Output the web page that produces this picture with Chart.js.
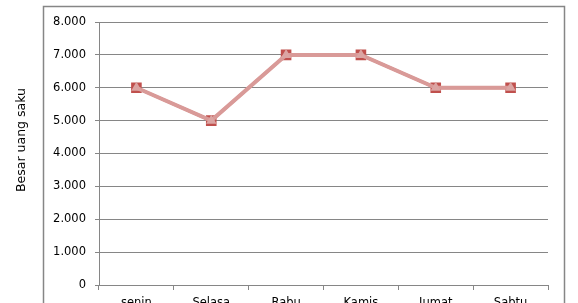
<!DOCTYPE html>
<html>
<head>
<meta charset="utf-8">
<script src="https://cdn.jsdelivr.net/npm/chart.js@4"></script>
<style>
  html, body { margin: 0; padding: 0; background: #fff; overflow: hidden; }
  #wrap { position: relative; width: 578px; height: 320px; }
</style>
</head>
<body>
<div id="wrap"><canvas id="LineChart"></canvas></div>
<script>
const labels_days = ['senin', 'Selasa', 'Rabu', 'Kamis', 'Jumat', 'Sabtu'];
const uang_saku = [6000, 5000, 7000, 7000, 6000, 6000];
const y_ticks = [0, 1000, 2000, 3000, 4000, 5000, 6000, 7000, 8000];
const y_title = 'Besar uang saku';

const gridGray = '#868686';
const tickFont = { family: 'DejaVu Sans', size: 11.5 };

// outer frame of the chart object + the axis title (sits a bit above plot centre, like Excel)
const frame = {
    id: 'frame',
    beforeDraw(chart) {
        const ctx = chart.ctx;
        ctx.save();
        ctx.strokeStyle = gridGray;
        ctx.lineWidth = 1.5;
        ctx.strokeRect(43.5, 6.5, 521, 400);
        ctx.restore();
    },
    afterDraw(chart) {
        const ctx = chart.ctx;
        ctx.save();
        ctx.translate(22, 140);
        ctx.rotate(-Math.PI / 2);
        ctx.fillStyle = '#000';
        ctx.font = '12.5px "DejaVu Sans"';
        ctx.textAlign = 'center';
        ctx.textBaseline = 'middle';
        ctx.fillText(y_title, 0, 0);
        ctx.restore();
    }
};

const data_line = {
    labels: labels_days,
    datasets: [{
        label: 'Series 1',
        data: uang_saku,
        borderColor: '#C0504D',
        backgroundColor: '#C0504D',
        borderWidth: 3,
        pointStyle: 'rect',
        pointRadius: 7.5,
        pointBorderWidth: 0,
        order: 2
    }, {
        label: 'Series 2',
        data: uang_saku,
        borderColor: '#D99A98',
        backgroundColor: '#DBA5A3',
        borderWidth: 4,
        pointStyle: 'triangle',
        pointRadius: 6,
        pointBorderWidth: 0,
        order: 1
    }]
};

const config_line = {
    type: 'line',
    data: data_line,
    options: {
        responsive: false,
        animation: false,
        layout: {
            padding: { left: 10, right: 30, top: 22, bottom: 0 }
        },
        scales: {
            y: {
                min: 0,
                max: 8000,
                afterFit: (scale) => { scale.width = 89; },
                afterBuildTicks: (scale) => {
                    scale.ticks = y_ticks.map(v => ({ value: v }));
                },
                ticks: {
                    color: '#000',
                    font: tickFont,
                    padding: 9,
                    callback: (v) => v.toLocaleString('de-DE')
                },
                grid: {
                    color: gridGray,
                    tickLength: 4
                },
                border: { color: gridGray }
            },
            x: {
                offset: true,
                afterFit: (scale) => { scale.height = 35; },
                ticks: {
                    color: '#000',
                    font: tickFont,
                    padding: 6,
                    maxRotation: 0
                },
                grid: {
                    offset: true,
                    drawOnChartArea: false,
                    color: gridGray,
                    tickLength: 5
                },
                border: { color: gridGray }
            }
        },
        plugins: {
            legend: { display: false },
            tooltip: { enabled: false }
        }
    },
    plugins: [frame]
};

const canvas = document.getElementById('LineChart');
canvas.width = 578;
canvas.height = 320;
const myChart_Line = new Chart(canvas, config_line);
</script>
</body>
</html>
